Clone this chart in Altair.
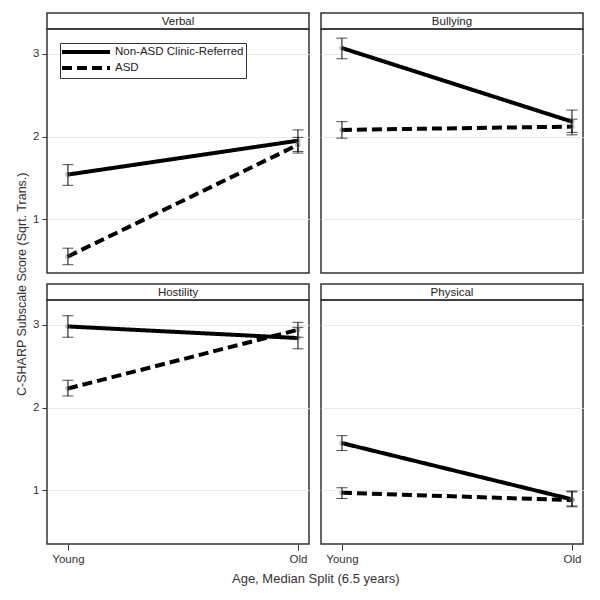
import altair as alt
import pandas as pd

FONT = "Liberation Sans"

scales = ["Verbal", "Bullying", "Hostility", "Physical"]
groups = ["Non-ASD Clinic-Referred", "ASD"]
ages = ["Young", "Old"]

# Non-ASD clinic-referred: means and error bar bounds (Young, Old) per subscale
nonasd_mean = {"Verbal": [1.54, 1.95], "Bullying": [3.07, 2.18], "Hostility": [2.98, 2.84], "Physical": [1.57, 0.89]}
nonasd_lo = {"Verbal": [1.41, 1.82], "Bullying": [2.94, 2.05], "Hostility": [2.85, 2.71], "Physical": [1.48, 0.81]}
nonasd_hi = {"Verbal": [1.66, 2.08], "Bullying": [3.19, 2.32], "Hostility": [3.11, 2.97], "Physical": [1.66, 0.99]}
# ASD
asd_mean = {"Verbal": [0.55, 1.90], "Bullying": [2.08, 2.12], "Hostility": [2.23, 2.94], "Physical": [0.97, 0.88]}
asd_lo = {"Verbal": [0.45, 1.80], "Bullying": [1.98, 2.02], "Hostility": [2.14, 2.85], "Physical": [0.90, 0.80]}
asd_hi = {"Verbal": [0.65, 1.99], "Bullying": [2.18, 2.21], "Hostility": [2.33, 3.03], "Physical": [1.03, 0.98]}

rows = []
for s in scales:
    for gi, (m, lo, hi) in enumerate([(nonasd_mean, nonasd_lo, nonasd_hi), (asd_mean, asd_lo, asd_hi)]):
        for ai, a in enumerate(ages):
            rows.append({"scale": s, "group": groups[gi], "age": a, "xpos": ai,
                         "mean": m[s][ai], "lo": lo[s][ai], "hi": hi[s][ai]})
df = pd.DataFrame(rows)

W, H, HH = 262, 244, 16
xscale = alt.Scale(domain=[-0.091, 1.048], nice=False, zero=False)
yscale = alt.Scale(domain=[0.35, 3.3], nice=False, zero=False)
dash_scale = alt.Scale(domain=groups, range=[[1, 0], [10, 5]])


def header(name):
    return alt.Chart(pd.DataFrame({"t": [name]})).mark_text(
        font=FONT, fontSize=11.5, color="#222", dy=1
    ).encode(
        x=alt.X("t:N", axis=None),
        y=alt.Y("t:N", axis=None),
        text="t:N",
    ).properties(width=W, height=HH)


def panel(name, left, bottom, legend):
    d = df[df.scale == name]
    base = alt.Chart(d)
    if bottom:
        xaxis = alt.Axis(values=[0, 1], labelExpr="datum.value == 0 ? 'Young' : 'Old'",
                         title=None, grid=False, domain=False, ticks=True, tickSize=6,
                         tickColor="#333", labelPadding=3, labelFont=FONT, labelFontSize=11.5,
                         labelColor="#333")
    else:
        xaxis = None
    yaxis = alt.Axis(values=[1, 2, 3], title=None, grid=True, gridColor="#ebebeb",
                     domain=False, ticks=left, labels=left, tickSize=5, tickColor="#333",
                     format="d", labelFont=FONT, labelFontSize=11.5, labelColor="#333",
                     labelPadding=3)
    x = alt.X("xpos:Q", scale=xscale, axis=xaxis)
    if legend:
        leg = alt.Legend(orient="none", legendX=13, legendY=14, title=None,
                         symbolType="M-1.4,0L8.2,0", symbolStrokeWidth=4, symbolSize=100,
                         symbolStrokeColor="black", strokeColor="#333", padding=2,
                         labelFont=FONT, labelFontSize=11.5, labelColor="#222",
                         rowPadding=0, labelOffset=39, fillColor="white")
    else:
        leg = None
    lines = base.mark_line(strokeWidth=4, color="black").encode(
        x=x, y=alt.Y("mean:Q", scale=yscale, axis=yaxis),
        strokeDash=alt.StrokeDash("group:N", scale=dash_scale, legend=leg),
    )
    bars = base.mark_rule(color="black", strokeWidth=1).encode(
        x=x, y=alt.Y("lo:Q", scale=yscale), y2="hi:Q")
    cap_lo = base.mark_tick(orient="horizontal", size=11, thickness=1, color="black").encode(
        x=x, y=alt.Y("lo:Q", scale=yscale))
    cap_hi = base.mark_tick(orient="horizontal", size=11, thickness=1, color="black").encode(
        x=x, y=alt.Y("hi:Q", scale=yscale))
    pts = base.mark_point(size=18, color="#666", strokeWidth=1).encode(
        x=x, y=alt.Y("mean:Q", scale=yscale))
    return alt.layer(bars, cap_lo, cap_hi, lines, pts).properties(width=W, height=H)


def cell(name, left, bottom, legend=False):
    return alt.vconcat(header(name), panel(name, left, bottom, legend), spacing=0,
                       bounds="flush").resolve_scale(
        strokeDash="independent").resolve_legend(strokeDash="independent")


row1 = alt.hconcat(cell("Verbal", True, False, True), cell("Bullying", False, False),
                   spacing=10).resolve_scale(
    strokeDash="independent").resolve_legend(strokeDash="independent")
row2 = alt.hconcat(cell("Hostility", True, True), cell("Physical", False, True),
                   spacing=10).resolve_scale(
    strokeDash="independent").resolve_legend(strokeDash="independent")

inner = alt.vconcat(row1, row2, spacing=9).resolve_scale(
    strokeDash="independent").resolve_legend(strokeDash="independent").properties(
    title=alt.Title(text="Age, Median Split (6.5 years)", orient="bottom", anchor="middle",
                    font=FONT, fontSize=13, fontWeight="normal", color="#333", offset=8,
                    dx=8))

chart = alt.vconcat(inner).resolve_scale(
    strokeDash="independent").resolve_legend(strokeDash="independent").properties(
    title=alt.Title(text="C-SHARP Subscale Score (Sqrt. Trans.)", orient="left", anchor="middle",
                    font=FONT, fontSize=12.5, fontWeight="normal", color="#333", offset=3,
                    dx=15),
    padding={"left": 8, "top": 4, "right": 5, "bottom": 4},
).configure_view(stroke="#333", strokeWidth=1.5)

chart.save("out.html", embed_options={"renderer": "svg", "actions": False})
